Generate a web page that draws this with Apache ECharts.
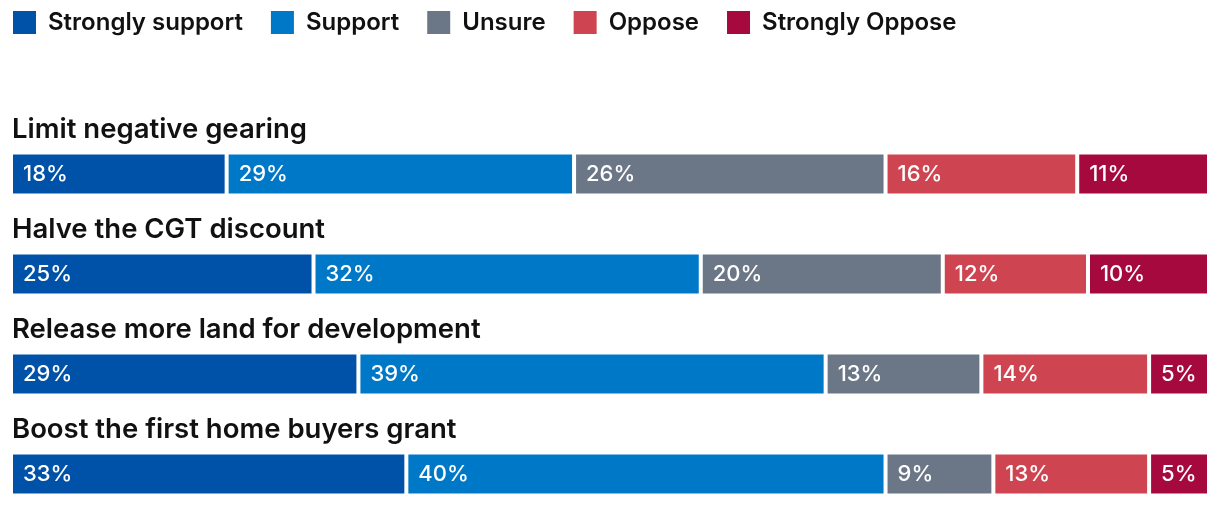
<!DOCTYPE html>
<html>
<head>
<meta charset="utf-8">
<script src="https://cdn.jsdelivr.net/npm/echarts@6/dist/echarts.min.js"></script>
<style>html,body{margin:0;padding:0;background:#fff}#c{width:1220px;height:506px}</style>
</head>
<body>
<div id="c"></div>
<script>
const categories = ["Limit negative gearing", "Halve the CGT discount", "Release more land for development", "Boost the first home buyers grant"];
const seriesNames = ["Strongly support", "Support", "Unsure", "Oppose", "Strongly Oppose"];
const stronglySupport = [18, 25, 29, 33];
const support = [29, 32, 39, 40];
const unsure = [26, 20, 13, 9];
const oppose = [16, 12, 14, 13];
const stronglyOppose = [11, 10, 5, 5];
const colors = ["#0052A8", "#0078C8", "#6B7687", "#CF4451", "#A6093D"];

const all = [stronglySupport, support, unsure, oppose, stronglyOppose];
const totals = categories.map((_, i) => all.reduce((s, arr) => s + arr[i], 0));
const FONT = "Inter";

const series = all.map((arr, k) => ({
  name: seriesNames[k],
  type: 'bar',
  stack: 'total',
  barWidth: 43,
  data: arr.map((v, i) => ({ value: v / totals[i] * 100, raw: v })),
  itemStyle: { color: colors[k], borderColor: '#ffffff', borderWidth: 2 },
  label: {
    show: true,
    position: 'insideLeft',
    distance: 12,
    color: '#ffffff',
    fontFamily: FONT,
    fontSize: 22,
    fontWeight: 500,
    formatter: p => p.data.raw + '%'
  },
  emphasis: { disabled: true }
}));

const chart = echarts.init(document.getElementById('c'), null, { renderer: 'canvas' });
chart.setOption({
  animation: false,
  color: colors,
  legend: {
    left: 11, top: 9,
    padding: 0,
    icon: 'rect',
    itemWidth: 25, itemHeight: 25,
    itemGap: 26,
    textStyle: { fontFamily: FONT, fontSize: 24, fontWeight: 600, color: '#111', padding: [0, 0, 0, 6] },
    data: seriesNames
  },
  grid: { left: 11, right: 11, top: 124, height: 400, outerBoundsMode: 'none', containLabel: false },
  xAxis: { type: 'value', min: 0, max: 100, show: false },
  yAxis: {
    type: 'category',
    inverse: true,
    data: categories,
    axisLine: { show: false },
    axisTick: { show: false },
    splitLine: { show: false },
    axisLabel: {
      show: true,
      inside: true,
      margin: 1,
      hideOverlap: false,
      interval: 0,
      align: 'left',
      verticalAlign: 'middle',
      formatter: v => '{t|' + v + '}\n{s|}',
      rich: {
        t: { color: '#111', fontFamily: FONT, fontSize: 27.5, fontWeight: 600, lineHeight: 30 },
        s: { lineHeight: 88, height: 88 }
      }
    },
    z: 10
  },
  series: series
});
</script>
</body>
</html>
